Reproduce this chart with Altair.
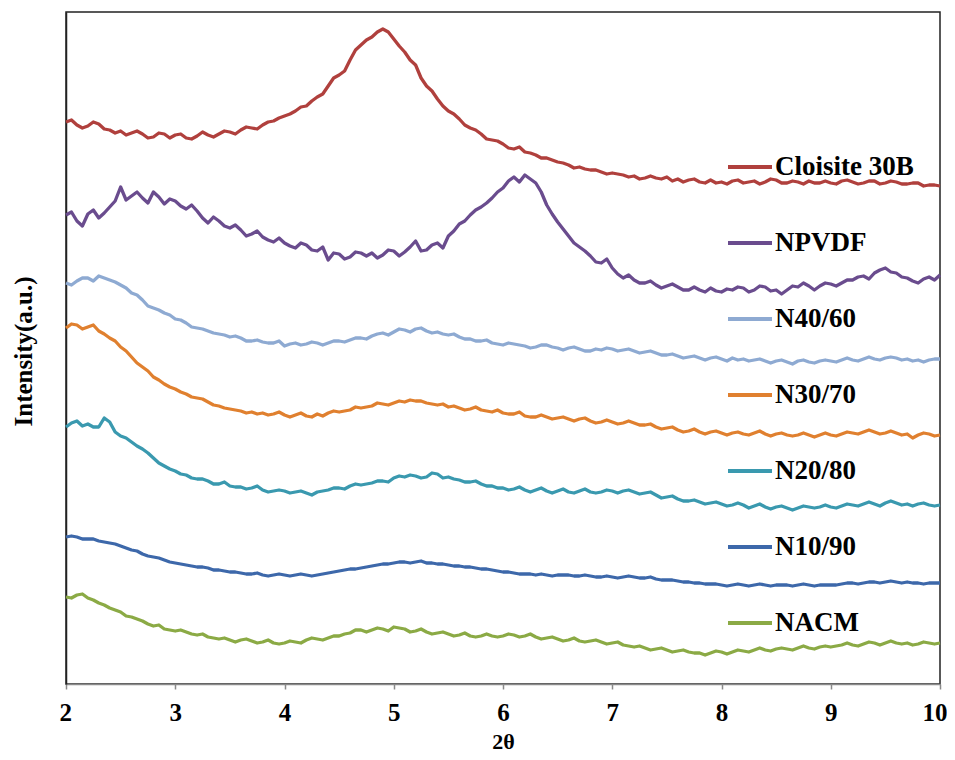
import altair as alt
import pandas as pd

# 2-theta sampling positions (degrees), ten per row
two_theta = [2.00, 2.05, 2.10, 2.15, 2.20, 2.25, 2.30, 2.35, 2.40, 2.45,
             2.50, 2.55, 2.60, 2.65, 2.70, 2.75, 2.80, 2.85, 2.90, 2.95,
             3.00, 3.05, 3.10, 3.15, 3.20, 3.25, 3.30, 3.35, 3.40, 3.45,
             3.50, 3.55, 3.60, 3.65, 3.70, 3.75, 3.80, 3.85, 3.90, 3.95,
             4.00, 4.05, 4.10, 4.15, 4.20, 4.25, 4.30, 4.35, 4.40, 4.45,
             4.50, 4.55, 4.60, 4.65, 4.70, 4.75, 4.80, 4.85, 4.90, 4.95,
             5.00, 5.05, 5.10, 5.15, 5.20, 5.25, 5.30, 5.35, 5.40, 5.45,
             5.50, 5.55, 5.60, 5.65, 5.70, 5.75, 5.80, 5.85, 5.90, 5.95,
             6.00, 6.05, 6.10, 6.15, 6.20, 6.25, 6.30, 6.35, 6.40, 6.45,
             6.50, 6.55, 6.60, 6.65, 6.70, 6.75, 6.80, 6.85, 6.90, 6.95,
             7.00, 7.05, 7.10, 7.15, 7.20, 7.25, 7.30, 7.35, 7.40, 7.45,
             7.50, 7.55, 7.60, 7.65, 7.70, 7.75, 7.80, 7.85, 7.90, 7.95,
             8.00, 8.05, 8.10, 8.15, 8.20, 8.25, 8.30, 8.35, 8.40, 8.45,
             8.50, 8.55, 8.60, 8.65, 8.70, 8.75, 8.80, 8.85, 8.90, 8.95,
             9.00, 9.05, 9.10, 9.15, 9.20, 9.25, 9.30, 9.35, 9.40, 9.45,
             9.50, 9.55, 9.60, 9.65, 9.70, 9.75, 9.80, 9.85, 9.90, 9.95,
             10.00]

# Intensities (arbitrary units, offset curves as in the figure)
cloisite_30b = [562, 564, 559, 556, 558, 562, 560, 555, 554, 551,
                553, 549, 551, 553, 550, 546, 547, 551, 550, 546,
                549, 550, 546, 545, 548, 552, 549, 547, 550, 553,
                552, 550, 554, 557, 556, 555, 559, 562, 563, 566,
                568, 570, 573, 577, 578, 583, 587, 590, 598, 606,
                609, 613, 624, 634, 639, 644, 647, 652, 655, 652,
                645, 638, 632, 624, 619, 606, 598, 593, 585, 578,
                573, 570, 565, 559, 556, 554, 550, 545, 544, 543,
                540, 536, 535, 537, 532, 531, 529, 526, 526, 524,
                522, 521, 519, 516, 517, 515, 514, 514, 512, 510,
                511, 510, 509, 507, 508, 505, 506, 508, 506, 505,
                507, 503, 505, 502, 504, 505, 502, 501, 504, 501,
                502, 500, 503, 504, 501, 502, 503, 500, 502, 505,
                504, 501, 501, 503, 502, 500, 503, 501, 501, 503,
                501, 500, 503, 504, 502, 500, 501, 503, 503, 500,
                501, 503, 502, 500, 500, 501, 501, 498, 499, 499,
                498]

npvdf = [469, 472, 463, 458, 470, 474, 466, 471, 477, 483,
         497, 484, 488, 492, 486, 481, 492, 487, 480, 485,
         483, 478, 475, 479, 473, 466, 461, 467, 463, 458,
         456, 459, 454, 448, 450, 453, 447, 444, 442, 446,
         441, 438, 436, 441, 439, 434, 433, 437, 424, 431,
         430, 425, 427, 432, 431, 428, 431, 426, 429, 434,
         433, 428, 432, 437, 443, 433, 434, 439, 441, 436,
         448, 453, 460, 463, 469, 474, 477, 481, 486, 492,
         496, 503, 507, 502, 509, 505, 501, 492, 479, 470,
         462, 455, 448, 441, 437, 433, 428, 422, 421, 425,
         416, 410, 406, 409, 404, 401, 401, 403, 399, 396,
         398, 400, 397, 394, 394, 397, 394, 392, 396, 393,
         392, 395, 394, 397, 396, 392, 394, 398, 397, 393,
         394, 390, 394, 398, 397, 401, 398, 394, 398, 401,
         400, 398, 401, 404, 404, 407, 408, 405, 411, 414,
         416, 412, 411, 407, 406, 403, 401, 405, 407, 404,
         409]

n40_60 = [401, 399, 403, 406, 406, 403, 408, 406, 404, 402,
          399, 396, 391, 389, 384, 378, 376, 374, 371, 369,
          365, 364, 361, 357, 356, 355, 353, 351, 350, 349,
          347, 348, 346, 343, 343, 344, 342, 341, 341, 343,
          338, 340, 341, 339, 340, 342, 341, 339, 341, 343,
          343, 342, 344, 346, 346, 345, 348, 350, 351, 349,
          352, 355, 354, 352, 355, 356, 353, 351, 352, 350,
          349, 350, 347, 345, 345, 343, 343, 344, 341, 340,
          339, 341, 340, 339, 338, 336, 337, 339, 339, 337,
          336, 334, 336, 337, 335, 333, 333, 335, 334, 336,
          335, 333, 334, 335, 333, 331, 332, 333, 331, 329,
          329, 330, 328, 326, 327, 328, 326, 324, 326, 327,
          325, 323, 326, 324, 325, 323, 324, 325, 323, 321,
          323, 324, 322, 320, 323, 324, 322, 321, 323, 324,
          323, 322, 324, 326, 324, 323, 325, 327, 325, 324,
          326, 327, 326, 324, 325, 323, 324, 322, 324, 325,
          325]

n30_70 = [356, 360, 359, 355, 357, 359, 353, 350, 346, 343,
          337, 333, 327, 321, 317, 313, 307, 304, 300, 297,
          295, 292, 290, 287, 286, 285, 282, 279, 278, 276,
          275, 274, 273, 271, 272, 270, 271, 269, 270, 272,
          269, 267, 269, 271, 268, 267, 270, 268, 271, 273,
          272, 273, 274, 277, 276, 277, 278, 281, 280, 279,
          281, 283, 282, 284, 283, 283, 281, 280, 279, 280,
          277, 278, 276, 274, 275, 277, 274, 273, 272, 274,
          271, 270, 270, 272, 268, 267, 267, 269, 267, 265,
          266, 267, 265, 263, 265, 266, 263, 261, 262, 264,
          262, 260, 261, 263, 261, 259, 259, 260, 257, 255,
          256, 257, 254, 252, 253, 255, 252, 250, 252, 253,
          251, 249, 251, 252, 250, 249, 251, 253, 250, 248,
          250, 251, 249, 248, 249, 251, 249, 247, 249, 251,
          249, 248, 250, 252, 251, 250, 252, 254, 252, 250,
          251, 253, 251, 249, 250, 246, 249, 251, 250, 248,
          249]

n20_80 = [257, 261, 263, 258, 260, 257, 257, 266, 262, 252,
          248, 246, 242, 238, 235, 231, 226, 221, 218, 215,
          213, 210, 209, 206, 205, 205, 203, 200, 200, 202,
          198, 197, 197, 195, 196, 198, 194, 192, 193, 194,
          193, 191, 192, 193, 191, 189, 192, 193, 194, 196,
          196, 195, 198, 200, 199, 200, 201, 203, 203, 202,
          206, 208, 207, 209, 208, 206, 207, 211, 210, 206,
          207, 205, 204, 202, 202, 203, 200, 198, 198, 196,
          196, 194, 195, 197, 194, 192, 194, 196, 193, 191,
          193, 195, 192, 191, 193, 195, 192, 191, 192, 194,
          193, 191, 193, 194, 192, 190, 191, 192, 189, 186,
          187, 188, 185, 183, 183, 184, 182, 180, 181, 182,
          180, 178, 179, 181, 179, 176, 178, 180, 177, 175,
          177, 178, 176, 174, 176, 178, 177, 176, 177, 179,
          177, 176, 178, 180, 179, 178, 180, 182, 180, 178,
          181, 183, 181, 179, 180, 178, 180, 181, 179, 178,
          179]

n10_90 = [147, 148, 147, 145, 145, 145, 143, 142, 141, 140,
          138, 136, 134, 133, 130, 128, 127, 126, 124, 122,
          121, 120, 119, 118, 117, 117, 116, 114, 114, 113,
          112, 112, 111, 110, 110, 111, 109, 108, 109, 110,
          109, 108, 109, 110, 109, 108, 109, 110, 111, 112,
          113, 114, 115, 115, 116, 117, 118, 119, 120, 120,
          121, 122, 122, 121, 122, 123, 121, 121, 120, 120,
          119, 118, 118, 117, 117, 116, 115, 115, 114, 113,
          112, 112, 111, 110, 110, 110, 109, 110, 109, 108,
          109, 109, 109, 108, 108, 109, 108, 107, 107, 108,
          107, 106, 107, 108, 107, 106, 106, 107, 105, 104,
          104, 104, 103, 102, 102, 101, 101, 100, 100, 100,
          99, 98, 99, 100, 99, 98, 99, 100, 99, 98,
          99, 99, 99, 98, 99, 100, 99, 98, 99, 99,
          99, 99, 100, 101, 101, 100, 101, 102, 102, 101,
          102, 103, 102, 101, 102, 101, 101, 100, 101, 101,
          101]

nacm = [87, 86, 89, 90, 86, 84, 81, 79, 76, 74,
        72, 68, 67, 65, 63, 60, 58, 59, 55, 54,
        53, 54, 52, 50, 49, 50, 47, 46, 45, 46,
        44, 42, 44, 45, 43, 41, 42, 44, 41, 40,
        41, 43, 42, 41, 44, 46, 45, 44, 46, 48,
        48, 50, 51, 54, 54, 52, 54, 56, 55, 53,
        57, 56, 55, 52, 53, 55, 52, 50, 51, 52,
        50, 48, 49, 51, 48, 47, 48, 50, 48, 47,
        48, 50, 49, 47, 48, 50, 47, 45, 46, 47,
        45, 43, 44, 46, 43, 42, 43, 44, 42, 40,
        41, 42, 39, 38, 37, 38, 36, 34, 35, 36,
        34, 32, 33, 34, 32, 31, 31, 29, 31, 33,
        32, 30, 32, 34, 33, 32, 34, 36, 34, 33,
        35, 36, 35, 34, 36, 38, 36, 35, 37, 38,
        37, 38, 39, 41, 39, 38, 40, 42, 41, 39,
        41, 43, 41, 40, 41, 39, 40, 42, 41, 40,
        41]

series_names = ["Cloisite 30B", "NPVDF", "N40/60", "N30/70", "N20/80", "N10/90", "NACM"]
series_values = [cloisite_30b, npvdf, n40_60, n30_70, n20_80, n10_90, nacm]
series_colors = ["#B0403D", "#6A4C8E", "#8EAAD2", "#E0802F", "#3A99AF", "#3D68AA", "#8BAA45"]
x_ticks = [2, 3, 4, 5, 6, 7, 8, 9, 10]

rows = []
for name, vals in zip(series_names, series_values):
    for t, v in zip(two_theta, vals):
        rows.append({"two_theta": t, "intensity": v, "sample": name})
df = pd.DataFrame(rows)

FONT = "Liberation Serif"

chart = alt.Chart(df).mark_line(strokeWidth=3.3, strokeJoin="round").encode(
    x=alt.X("two_theta:Q",
            scale=alt.Scale(domain=[2, 10], nice=False, zero=False),
            axis=alt.Axis(title="2θ", values=x_ticks, grid=False,
                          labelFlush=True, labelFlushOffset=7,
                          domainColor="#8a8a8a", domainWidth=1.5,
                          tickColor="#8a8a8a", tickWidth=1.5, tickSize=5,
                          labelFont=FONT, labelFontSize=25, labelFontWeight="bold",
                          labelColor="black", labelPadding=11,
                          titleFont=FONT, titleFontSize=22, titleFontWeight="bold",
                          titleColor="black", titlePadding=6)),
    y=alt.Y("intensity:Q",
            scale=alt.Scale(domain=[0, 672], nice=False),
            axis=alt.Axis(title="Intensity(a.u.)", labels=False, ticks=False, grid=False,
                          domainColor="#222222", domainWidth=1.5,
                          titleFont=FONT, titleFontSize=25, titleFontWeight="bold",
                          titleColor="black", titleX=-43, titleY=339,
                          titleAlign="center", titleBaseline="middle")),
    color=alt.Color("sample:N",
                    scale=alt.Scale(domain=series_names, range=series_colors),
                    sort=series_names,
                    legend=alt.Legend(title=None, orient="none", legendX=660, legendY=131,
                                      symbolType="stroke", symbolSize=1936,
                                      symbolStrokeWidth=4, labelOffset=1,
                                      labelFont=FONT, labelFontSize=27,
                                      labelFontWeight="bold", labelColor="black",
                                      rowPadding=39, labelLimit=300)),
    order=alt.Order("two_theta:Q"),
).properties(
    width=874, height=672,
    autosize=alt.AutoSizeParams(type="none"),
    padding={"left": 58, "top": 4, "right": 7, "bottom": 70},
).configure_view(stroke="#222222", strokeWidth=1.5)

chart.save("out.html", embed_options={"renderer": "svg", "actions": False})
